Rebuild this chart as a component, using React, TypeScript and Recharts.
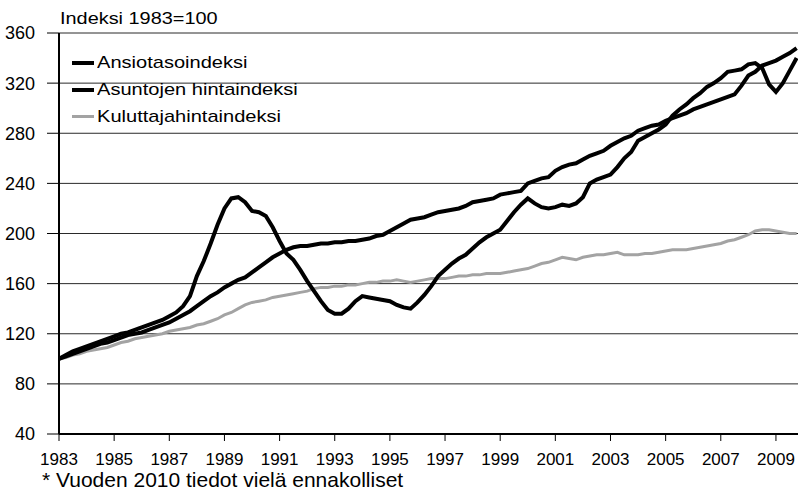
import { CartesianGrid, Line, LineChart, XAxis, YAxis } from "recharts";

// Indeksi 1983=100, quarterly readings 1983 Q1 – 2009 Q4
const seriesNames = ["Ansiotasoindeksi", "Asuntojen hintaindeksi", "Kuluttajahintaindeksi"];
const yTicks = [40, 80, 120, 160, 200, 240, 280, 320, 360];
const xTicks = [1983, 1985, 1987, 1989, 1991, 1993, 1995, 1997, 1999, 2001, 2003, 2005, 2007, 2009];

const wages = [
  100, 102, 104, 106, // 1983
  108, 110, 112, 113,
  115, 117, 119, 120, // 1985
  121, 123, 125, 127,
  129, 132, 135, 138, // 1987
  142, 146, 150, 153,
  157, 160, 163, 165, // 1989
  169, 173, 177, 181,
  184, 187, 189, 190, // 1991
  190, 191, 192, 192,
  193, 193, 194, 194, // 1993
  195, 196, 198, 199,
  202, 205, 208, 211, // 1995
  212, 213, 215, 217,
  218, 219, 220, 222, // 1997
  225, 226, 227, 228,
  231, 232, 233, 234, // 1999
  240, 242, 244, 245,
  250, 253, 255, 256, // 2001
  259, 262, 264, 266,
  270, 273, 276, 278, // 2003
  282, 284, 286, 287,
  290, 292, 294, 296, // 2005
  299, 301, 303, 305,
  307, 309, 311, 318, // 2007
  326, 329, 334, 336,
  338, 341, 344, 348, // 2009
];

const housing = [
  100, 103, 106, 108, // 1983
  110, 112, 114, 116,
  118, 120, 121, 123, // 1985
  125, 127, 129, 131,
  134, 137, 142, 150, // 1987
  166, 178, 192, 207,
  220, 228, 229, 225, // 1989
  218, 217, 214, 205,
  194, 184, 179, 171, // 1991
  162, 154, 146, 139,
  136, 136, 140, 146, // 1993
  150, 149, 148, 147,
  146, 143, 141, 140, // 1995
  145, 151, 158, 166,
  171, 176, 180, 183, // 1997
  188, 193, 197, 200,
  203, 210, 217, 223, // 1999
  228, 224, 221, 220,
  221, 223, 222, 224, // 2001
  229, 240, 243, 245,
  247, 253, 260, 265, // 2003
  274, 277, 280, 283,
  287, 294, 299, 303, // 2005
  308, 312, 317, 320,
  324, 329, 330, 331, // 2007
  335, 336, 332, 319,
  313, 320, 330, 340, // 2009
];

const consumer = [
  100, 101, 103, 104, // 1983
  106, 107, 108, 109,
  111, 113, 114, 116, // 1985
  117, 118, 119, 120,
  122, 123, 124, 125, // 1987
  127, 128, 130, 132,
  135, 137, 140, 143, // 1989
  145, 146, 147, 149,
  150, 151, 152, 153, // 1991
  154, 156, 157, 157,
  158, 158, 159, 159, // 1993
  160, 161, 161, 162,
  162, 163, 162, 161, // 1995
  162, 163, 164, 164,
  164, 165, 166, 166, // 1997
  167, 167, 168, 168,
  168, 169, 170, 171, // 1999
  172, 174, 176, 177,
  179, 181, 180, 179, // 2001
  181, 182, 183, 183,
  184, 185, 183, 183, // 2003
  183, 184, 184, 185,
  186, 187, 187, 187, // 2005
  188, 189, 190, 191,
  192, 194, 195, 197, // 2007
  199, 202, 203, 203,
  202, 201, 200, 200, // 2009
];

const data = wages.map((v, i) => ({
  t: 1983 + i / 4,
  wages: v,
  housing: housing[i],
  consumer: consumer[i],
}));

const series = [
  { key: "consumer", name: seriesNames[2], color: "#a3a3a3", width: 3 },
  { key: "wages", name: seriesNames[0], color: "#000", width: 4 },
  { key: "housing", name: seriesNames[1], color: "#000", width: 4 },
];

const legendOrder = ["wages", "housing", "consumer"];

// legend sits inside the plot, top-left, so it's drawn outside recharts' layout
function ChartLegend() {
  return (
    <div style={{ position: "absolute", left: 72, top: 49 }}>
      {legendOrder.map((k) => {
        const s = series.find((x) => x.key === k)!;
        return (
          <div key={k} style={{ display: "flex", alignItems: "center", height: 27 }}>
            <span
              style={{
                display: "inline-block",
                width: 22,
                height: s.width,
                background: s.color,
                marginRight: 3,
              }}
            />
            <span
              style={{
                display: "inline-block",
                fontSize: 17,
                lineHeight: "17px",
                color: "#000",
                transform: "scaleX(1.18)",
                transformOrigin: "left center",
                whiteSpace: "nowrap",
              }}
            >
              {s.name}
            </span>
          </div>
        );
      })}
    </div>
  );
}

export default function App() {
  return (
    <div
      style={{
        position: "absolute",
        left: 0,
        top: 0,
        width: 798,
        height: 497,
        background: "#fff",
        fontFamily: "'Liberation Sans', Arial, sans-serif",
      }}
    >
      <div
        style={{
          position: "absolute",
          left: 60,
          top: 10,
          fontSize: 17,
          lineHeight: "17px",
          transform: "scaleX(1.17)",
          transformOrigin: "left top",
          whiteSpace: "nowrap",
        }}
      >
        Indeksi 1983=100
      </div>
      <LineChart
        width={798}
        height={497}
        data={data}
        margin={{ top: 33, right: 0, bottom: 0, left: 0 }}
      >
        <CartesianGrid vertical={false} stroke="#2a2a2a" strokeWidth={1} />
        <XAxis
          dataKey="t"
          type="number"
          domain={[1983, 2009.8]}
          allowDataOverflow
          ticks={xTicks}
          interval={0}
          height={63}
          tickSize={7}
          tickMargin={12}
          axisLine={{ stroke: "#000", strokeWidth: 2 }}
          tickLine={{ stroke: "#000" }}
          tick={{ fill: "#000", fontSize: 17 }}
        />
        <YAxis
          domain={[40, 360]}
          ticks={yTicks}
          interval={0}
          width={59}
          tickSize={12}
          tickMargin={12}
          axisLine={{ stroke: "#000", strokeWidth: 2 }}
          tickLine={{ stroke: "#000" }}
          tick={{ fill: "#000", fontSize: 18 }}
        />
        {series.map((s) => (
          <Line
            key={s.key}
            dataKey={s.key}
            name={s.name}
            type="linear"
            stroke={s.color}
            strokeWidth={s.width}
            dot={false}
            activeDot={false}
            isAnimationActive={false}
          />
        ))}
      </LineChart>
      <ChartLegend />
      <div
        style={{
          position: "absolute",
          left: 42,
          top: 472,
          fontSize: 21,
          lineHeight: "15px",
          whiteSpace: "nowrap",
        }}
      >
        * Vuoden 2010 tiedot vielä ennakolliset
      </div>
    </div>
  );
}
